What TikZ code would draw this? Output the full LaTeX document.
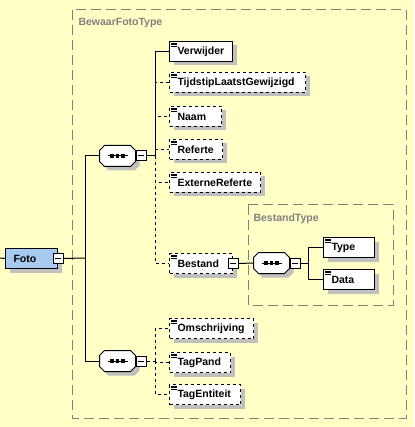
\documentclass[tikz,border=0pt]{standalone}
\usepackage{fontspec}
\setmainfont{Liberation Sans}
\usetikzlibrary{shadows}
\definecolor{paleyellow}{RGB}{255,255,198}
\definecolor{fotoblue}{RGB}{166,202,240}
\definecolor{shadowgray}{RGB}{192,192,192}
\definecolor{groupgray}{RGB}{128,128,128}
\newcommand{\elemicon}[1]{\foreach \dy in {2,3.7,5.4} \draw[line width=0.8pt] ([xshift=2pt,yshift=-\dy pt]#1.north west) -- ++(6pt,0pt);}
\newcommand{\octapath}[1]{([xshift=5pt]#1.north west) -- ([xshift=-5pt]#1.north east) -- ([yshift=-5pt]#1.north east)
  -- ([yshift=5pt]#1.south east) -- ([xshift=-5pt]#1.south east) -- ([xshift=5pt]#1.south west)
  -- ([yshift=5pt]#1.south west) -- ([yshift=-5pt]#1.north west) -- cycle}
\newcommand{\seqdots}[1]{\fill[shadowgray, transform canvas={shift={(4pt,-4pt)}}] \octapath{#1};
  \draw[fill=white] \octapath{#1};
  \draw ([xshift=-10pt]#1.center) -- ([xshift=10pt]#1.center);
  \foreach \dx in {-5.5,0,5.5} \fill ([xshift=\dx pt]#1.center) +(-1.6pt,-1.6pt) rectangle +(1.6pt,1.6pt);}
\tikzset{
  elem/.style={draw, fill=white, anchor=north west, minimum height=20pt, inner xsep=8pt, inner ysep=0pt,
    text width=#1, align=left, font=\fontsize{10.5}{12}\selectfont\bfseries,
    drop shadow={shadow xshift=4pt, shadow yshift=-4pt, fill=shadowgray, opacity=1}},
  elem/.default=40pt,
  seqbox/.style={minimum width=35pt, minimum height=20pt, inner sep=0pt},
  minusbox/.style={draw, fill=white, minimum size=10pt, inner sep=0pt,
    path picture={\draw ([xshift=2pt]path picture bounding box.west) -- ([xshift=-2pt]path picture bounding box.east);}},
  groupbox/.style={draw=groupgray, line width=1pt, dash pattern=on 10pt off 5pt},
  grouplabel/.style={anchor=base west, text=groupgray, inner sep=0pt, font=\fontsize{10.5}{12}\selectfont\bfseries}
}
\begin{document}
\begin{tikzpicture}[x=1pt,y=-1pt,line width=1pt]
\fill[paleyellow] (0,0) rectangle (414,427);
\useasboundingbox (0,0) rectangle (414,427);
\draw[groupbox] (72,10) rectangle (406,418); % BewaarFotoType
\node[grouplabel] (bewaarlbl) at (78,26) {BewaarFotoType};
\draw[groupbox] (248,205) rectangle (393,305); % BestandType
\node[grouplabel] (bestandlbl) at (253,222) {BestandType};
% root
\node[elem=36pt, fill=fotoblue] (foto) at (5,248) {Foto};
\node[minusbox] (fotom) at (foto.east) {};
\coordinate (in) at (0,258);
\draw (in) -- (foto.west);
% sequences
\node[seqbox] (s1) at (117.5,156) {};
\seqdots{s1}
\node[minusbox, anchor=west] (s1m) at (s1.east) {};
\node[seqbox] (s2) at (117.5,361) {};
\seqdots{s2}
\node[minusbox, anchor=west] (s2m) at (s2.east) {};
\coordinate (j1) at (85,258);
\draw (fotom.east) -- (j1);
\draw (s1.west) -| (j1);
\draw (s2.west) -| (j1);
% children of first sequence
\node[elem=47pt] (verwijder) at (169,41) {Verwijder};
\node[elem=120pt, dashed] (tijdstip) at (169,72) {TijdstipLaatstGewijzigd};
\node[elem=36pt, dashed] (naam) at (169,106) {Naam};
\node[elem=37pt, dashed] (referte) at (169,139) {Referte};
\node[elem=75pt, dashed] (externe) at (169,172) {ExterneReferte};
\node[elem=47pt, dashed] (bestand) at (169,253) {Bestand};
\node[minusbox] (bestandm) at (bestand.east) {};
\foreach \n in {verwijder,tijdstip,naam,referte,externe,bestand} \elemicon{\n}
\coordinate (j2) at (155,156);
\draw (s1m.east) -- (j2);
\draw (j2) |- (verwijder.west);
\foreach \n in {tijdstip,naam,referte,externe,bestand} \draw[dashed] (j2) |- (\n.west);
% BestandType
\node[seqbox] (s3) at (271.5,263) {};
\seqdots{s3}
\node[minusbox, anchor=west] (s3m) at (s3.east) {};
\draw (bestandm.east) -- (s3.west);
\node[elem=35pt] (type) at (323,237) {Type};
\node[elem=35pt] (data) at (323,269) {Data};
\elemicon{type}
\elemicon{data}
\coordinate (j4) at (308,263);
\draw (s3m.east) -- (j4);
\draw (j4) |- (type.west);
\draw (j4) |- (data.west);
% children of second sequence
\node[elem=68pt, dashed] (omschrijving) at (169,318) {Omschrijving};
\node[elem=45pt, dashed] (tagpand) at (169,352) {TagPand};
\node[elem=55pt, dashed] (tagentiteit) at (169,384) {TagEntiteit};
\foreach \n in {omschrijving,tagpand,tagentiteit} \elemicon{\n}
\coordinate (j3) at (155,361);
\draw[dashed] (s2m.east) -- (j3);
\foreach \n in {omschrijving,tagpand,tagentiteit} \draw[dashed] (j3) |- (\n.west);
\end{tikzpicture}
\end{document}
